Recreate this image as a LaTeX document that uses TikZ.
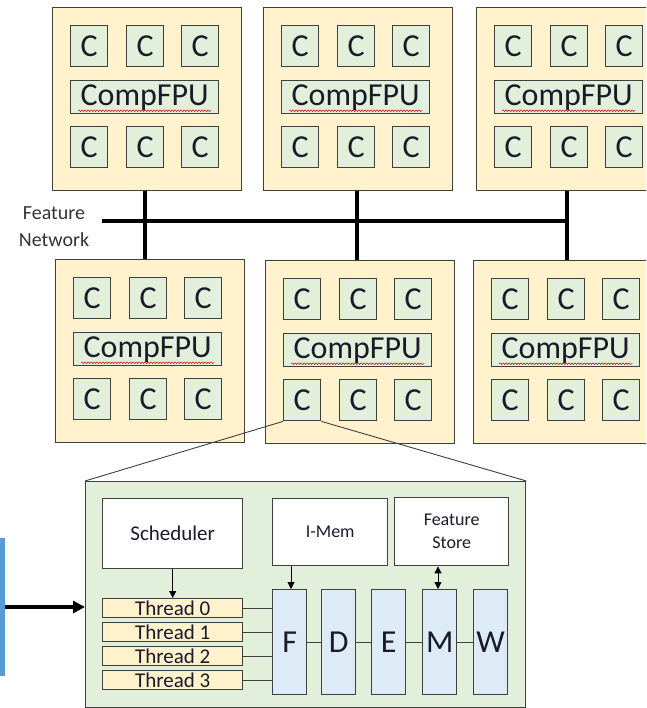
\documentclass[tikz,border=0pt]{standalone}
\usepackage{fontspec}
\setmainfont{Carlito}
\usetikzlibrary{arrows.meta,decorations.pathmorphing}
\definecolor{tilefill}{HTML}{FFF2CC}
\definecolor{cfill}{HTML}{E2EFDA}
\definecolor{pipefill}{HTML}{DDEBF7}
\definecolor{bordc}{HTML}{3F3F3F}
\definecolor{barblue}{HTML}{5B9BD5}
\definecolor{txt}{HTML}{1A1A2A}
\tikzset{
  tilebox/.style={draw=bordc,line width=1.4pt,fill=tilefill},
  cbox/.style={draw=bordc,line width=1.4pt,fill=cfill},
  bigtxt/.style={font=\fontsize{32}{32}\selectfont,text=txt},
  threadbox/.style={draw=bordc,line width=1.4pt,fill=tilefill,inner sep=0pt},
  pipebox/.style={draw=bordc,line width=1.4pt,fill=pipefill,inner sep=0pt},
  whitebox/.style={draw=bordc,line width=1.4pt,fill=white,inner sep=0pt},
  thin/.style={draw=bordc,line width=0.9pt},
  netline/.style={draw=black,line width=3.8pt},
  smallhead/.style={line width=0.9pt},
  squig/.style={draw=red!80!black,line width=0.5pt,decorate,decoration={snake,amplitude=0.8pt,segment length=3pt}}
}
% a tile: #1 name, #2 left x, #3 top y
\newcommand{\mytile}[3]{%
  \node[tilebox,minimum width=189pt,minimum height=183pt,inner sep=0pt,anchor=north west] (#1) at (#2,#3) {};
  \foreach \i/\dx in {1/18,2/74,3/129}{
    \node[cbox,minimum width=37pt,minimum height=41pt,inner sep=0pt,anchor=north west] (#1c\i) at (#2+\dx,#3+18) {};
    \node[bigtxt] at (#1c\i.center) {C};
    \node[cbox,minimum width=37pt,minimum height=41pt,inner sep=0pt,anchor=north west] (#1d\i) at (#2+\dx,#3+119) {};
    \node[bigtxt] at (#1d\i.center) {C};
  }
  \node[cbox,minimum width=148pt,minimum height=33pt,inner sep=0pt,anchor=north west] (#1f) at (#2+18,#3+73) {};
  \node[bigtxt] (#1ft) at (#1f.center) {CompFPU};
  \draw[squig] ([xshift=1pt,yshift=3pt]#1ft.south west) -- ([xshift=-1pt,yshift=3pt]#1ft.south east);
}
\begin{document}
\begin{tikzpicture}[x=1pt,y=-1pt]
\useasboundingbox (0,0) rectangle (646,708);
\begin{scope}
\clip (0,0) rectangle (646,708);
% network
\coordinate (nL) at (102,221);
\coordinate (nR) at (567,221);
\draw[netline] (145,190) -- (145,259);
\draw[netline] (357,190) -- (357,260);
\draw[netline] (567,190) -- (567,260);
\draw[netline] (nL) -- (nR);
% tiles
\mytile{tA}{52}{7}
\mytile{tB}{263}{7}
\mytile{tC}{476}{7}
\mytile{tD}{55}{259}
\mytile{tE}{265}{260}
\mytile{tF}{473}{260}
\end{scope}
\node[font=\fontsize{20}{27}\selectfont,text=black!80,align=center] (fn) at (54,227) {Feature\\Network};
% detail box
\node[draw=bordc,line width=1.4pt,fill=cfill,minimum width=440pt,minimum height=226pt,inner sep=0pt,anchor=north west] (det) at (85,481) {};
\draw[thin] (tEd1.south west) -- (det.north west);
\draw[thin] (tEd1.south east) -- (det.north east);
% left bar and arrow
\fill[barblue] (0,538) rectangle (5,676);
\coordinate (barR) at (5,607);
\draw[line width=3.8pt,-{Triangle[length=12pt,width=12pt]}] (barR) -- (det.west |- barR);
% top boxes
\node[whitebox,minimum width=140pt,minimum height=70pt,anchor=north west,font=\fontsize{21}{21}\selectfont,text=txt] (sch) at (102,498) {Scheduler};
\node[whitebox,minimum width=115pt,minimum height=67pt,anchor=north west,font=\fontsize{18}{18}\selectfont,text=txt] (imem) at (272,498) {I-Mem};
\node[whitebox,minimum width=114pt,minimum height=68pt,anchor=north west,font=\fontsize{18}{23}\selectfont,text=txt,align=center] (fst) at (394,497) {Feature\\Store};
% threads
\foreach \k/\y in {0/598,1/622,2/646,3/670}{
  \node[threadbox,minimum width=140pt,minimum height=19pt,anchor=north west,font=\fontsize{21}{21}\selectfont,text=txt] (th\k) at (102,\y) {Thread \k};
}
% pipeline
\foreach \n/\x in {F/272,D/321,E/371,M/422,W/473}{
  \node[pipebox,minimum width=34pt,minimum height=105pt,anchor=north west] (p\n) at (\x,589) {};
  \node[bigtxt] at (p\n.center) {\n};
}
\foreach \k in {0,1,2,3}{
  \draw[thin] (th\k.east) -- (th\k.east -| pF.west);
}
\draw[thin] (pF) -- (pD);
\draw[thin] (pD) -- (pE);
\draw[thin] (pE) -- (pM);
\draw[thin] (pM) -- (pW);
\draw[smallhead,-{Triangle[length=7pt,width=7pt]}] (sch.south -| th0.north) -- (th0.north);
\draw[smallhead,-{Triangle[length=7pt,width=7pt]}] (imem.south -| 291,0) -- (pF.north -| 291,0);
\draw[smallhead,{Triangle[length=7pt,width=7pt]}-{Triangle[length=7pt,width=7pt]}] (fst.south -| 438,0) -- (pM.north -| 438,0);
\end{tikzpicture}
\end{document}
